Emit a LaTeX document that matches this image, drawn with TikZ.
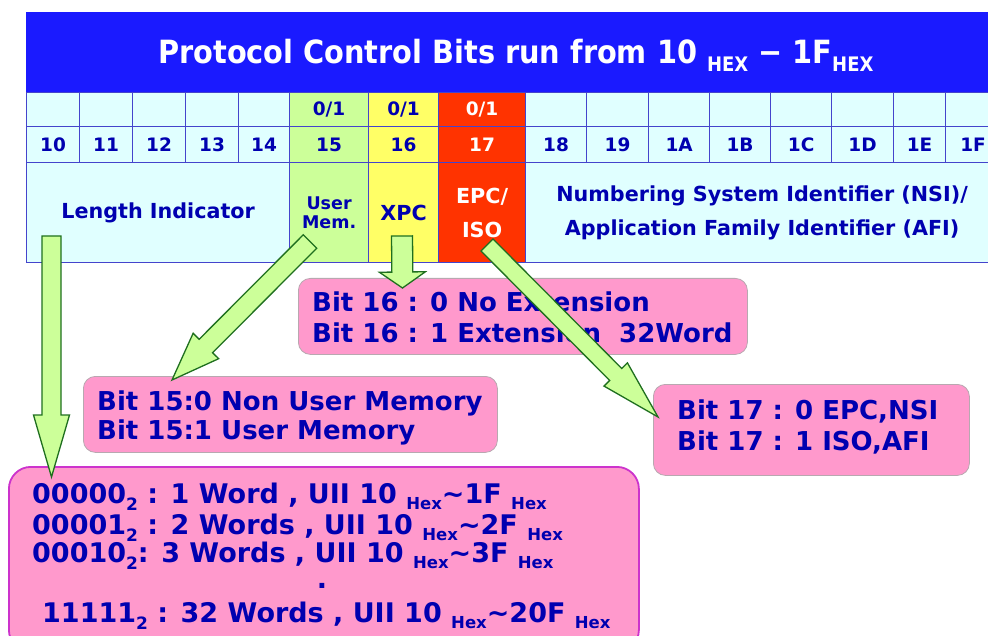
\documentclass[tikz,border=0pt]{standalone}
\usepackage{fontspec}
\setmainfont{DejaVu Sans}
\newfontfamily\condf{DejaVu Sans Condensed}
\usetikzlibrary{calc}
\definecolor{titleblue}{HTML}{1A1AFF}
\definecolor{gridblue}{HTML}{4444CC}
\definecolor{cellcyan}{HTML}{E0FFFF}
\definecolor{cellgreen}{HTML}{CCFF99}
\definecolor{cellyellow}{HTML}{FFFF66}
\definecolor{cellred}{HTML}{FF3300}
\definecolor{txtblue}{HTML}{0000B0}
\definecolor{boxpink}{HTML}{FF99CC}
\definecolor{boxgray}{HTML}{B8A8B0}
\definecolor{boxmag}{HTML}{CC33CC}
\definecolor{arrgreen}{HTML}{CCFF99}
\definecolor{arrdark}{HTML}{1F6F1F}
\newcommand\zeroone{0/1}
\newcommand\tsub[1]{\raisebox{-8pt}{\fontsize{20}{20}\selectfont #1}}
\newcommand\hsub[1]{\raisebox{-6pt}{\fontsize{16.5}{16.5}\selectfont #1}}
\newcommand\dsub[1]{\raisebox{-7pt}{\fontsize{17}{17}\selectfont #1}}
\newcommand\tild{\symbol{"223C}}
\newcommand\greenarrow[5]{%
  \coordinate (gaH) at ($(#2)!#5pt!(#1)$);
  \draw[garrow] ($(#1)!#3pt!90:(#2)$) -- ($(gaH)!#3pt!-90:(#1)$) -- ($(gaH)!#4pt!-90:(#1)$) -- (#2)
     -- ($(gaH)!#4pt!90:(#1)$) -- ($(gaH)!#3pt!90:(#1)$) -- ($(#1)!#3pt!-90:(#2)$) -- cycle;}
\begin{document}
\begin{tikzpicture}[x=1pt,y=-1pt,
  cell/.style={draw=gridblue, line width=1.2pt, inner sep=0, anchor=north west, text=txtblue,
    font=\bfseries\fontsize{18.5}{20}\selectfont, align=center},
  desc/.style={cell, font=\bfseries\fontsize{20.7}{34}\selectfont, minimum height=100pt},
  pinkbox/.style={fill=boxpink, draw=boxgray, line width=0.8pt, rounded corners=12pt, anchor=north west, inner sep=0},
  btext/.style={anchor=base west, inner sep=0, text=txtblue, font=\bfseries\fontsize{26}{30}\selectfont},
  ltext/.style={anchor=base west, inner sep=0, text=txtblue, font=\bfseries\fontsize{27}{31}\selectfont},
  garrow/.style={fill=arrgreen, draw=arrdark, line width=1.3pt, line join=miter}]
\useasboundingbox (0,0) rectangle (988,636);
\clip (0,0) rectangle (988,636);
% title
\node[fill=titleblue, minimum width=972pt, minimum height=80pt, inner sep=0, anchor=north west] (title) at (26,12) {};
\node[anchor=base west, inner sep=0, text=white, font=\condf\bfseries\fontsize{32}{34}\selectfont] (ttext) at (158,64)
  {Protocol Control Bits run from 10 \tsub{HEX} − 1F\tsub{HEX}};
% rows 1 and 2
\foreach \xa/\xb/\lab/\fc/\tc/\tx in {26/79/10/cellcyan/txtblue/{}, 79/132/11/cellcyan/txtblue/{},
   132/185/12/cellcyan/txtblue/{}, 185/238/13/cellcyan/txtblue/{}, 238/289/14/cellcyan/txtblue/{},
   289/368/15/cellgreen/txtblue/\zeroone, 368/438/16/cellyellow/txtblue/\zeroone, 438/525/17/cellred/white/\zeroone,
   525/586/18/cellcyan/txtblue/{}, 586/648/19/cellcyan/txtblue/{}, 648/709/1A/cellcyan/txtblue/{},
   709/770/1B/cellcyan/txtblue/{}, 770/831/1C/cellcyan/txtblue/{}, 831/893/1D/cellcyan/txtblue/{},
   893/945/1E/cellcyan/txtblue/{}, 945/1000/1F/cellcyan/txtblue/{}} {
  \node[cell, fill=\fc, text=\tc, minimum width={(\xb-\xa)*1pt}, minimum height=34pt] (r1-\lab) at (\xa,92) {\tx};
  \node[cell, fill=\fc, text=\tc, minimum width={(\xb-\xa)*1pt}, minimum height=36pt] (r2-\lab) at (\xa,126) {\lab};
}
% row 3
\node[desc, fill=cellcyan, minimum width=263pt] (len) at (26,162) {Length Indicator};
\node[desc, fill=cellgreen, minimum width=79pt, font=\bfseries\fontsize{17.5}{19.5}\selectfont] (umem) at (289,162) {User\\Mem.};
\node[desc, fill=cellyellow, minimum width=70pt] (xpc) at (368,162) {XPC};
\node[desc, fill=cellred, text=white, minimum width=87pt] (epc) at (438,162) {EPC/\\ISO};
\node[desc, fill=cellcyan, minimum width=473pt] (nsi) at (525,162) {Numbering System Identifier (NSI)/\\Application Family Identifier (AFI)};
% boxes
\node[pinkbox, minimum width=449pt, minimum height=76pt] (b16) at (298,278) {};
\node[btext] (t16a) at (312,312) {Bit 16 : 0 No Extension};
\node[btext] (t16b) at (312,342) {Bit 16 : 1 Extension\ \ 32Word};
\node[pinkbox, minimum width=414pt, minimum height=76pt] (b15) at (83,376) {};
\node[btext] (t15a) at (97,410) {Bit 15:0 Non User Memory};
\node[btext] (t15b) at (97,439) {Bit 15:1 User Memory};
\node[pinkbox, minimum width=316pt, minimum height=91pt] (b17) at (653,384) {};
\node[btext] (t17a) at (677,419) {Bit 17 : 0 EPC,NSI};
\node[btext] (t17b) at (677,450) {Bit 17 : 1 ISO,AFI};
\node[pinkbox, draw=boxmag, line width=1.8pt, rounded corners=22pt, minimum width=630pt, minimum height=185pt] (blen) at (8,466) {};
\node[ltext] (l1) at (32,503) {00000\dsub{2} : 1 Word , UII 10 \hsub{Hex}\tild 1F \hsub{Hex}};
\node[ltext] (l2) at (32,534) {00001\dsub{2} : 2 Words , UII 10 \hsub{Hex}\tild 2F \hsub{Hex}};
\node[ltext] (l3) at (32,562) {00010\dsub{2}: 3 Words , UII 10 \hsub{Hex}\tild 3F \hsub{Hex}};
\node[ltext, anchor=base] (ldot) at (322,588) {.};
\node[ltext] (l4) at (42,622) {11111\dsub{2} : 32 Words , UII 10 \hsub{Hex}\tild 20F \hsub{Hex}};
% arrows
\coordinate (a1s) at (51.5,236); \coordinate (a1t) at (51.5,477);
\coordinate (a2s) at (310,241.5); \coordinate (a2t) at (172,380);
\coordinate (a3s) at (402,236); \coordinate (a3t) at (402.5,288);
\coordinate (a4s) at (487,245); \coordinate (a4t) at (658,417);
\greenarrow{a1s}{a1t}{9.5}{18}{62}
\greenarrow{a2s}{a2t}{9.5}{18}{48}
\greenarrow{a3s}{a3t}{10.5}{23}{16}
\greenarrow{a4s}{a4t}{8.5}{16.5}{60}
\end{tikzpicture}
\end{document}
